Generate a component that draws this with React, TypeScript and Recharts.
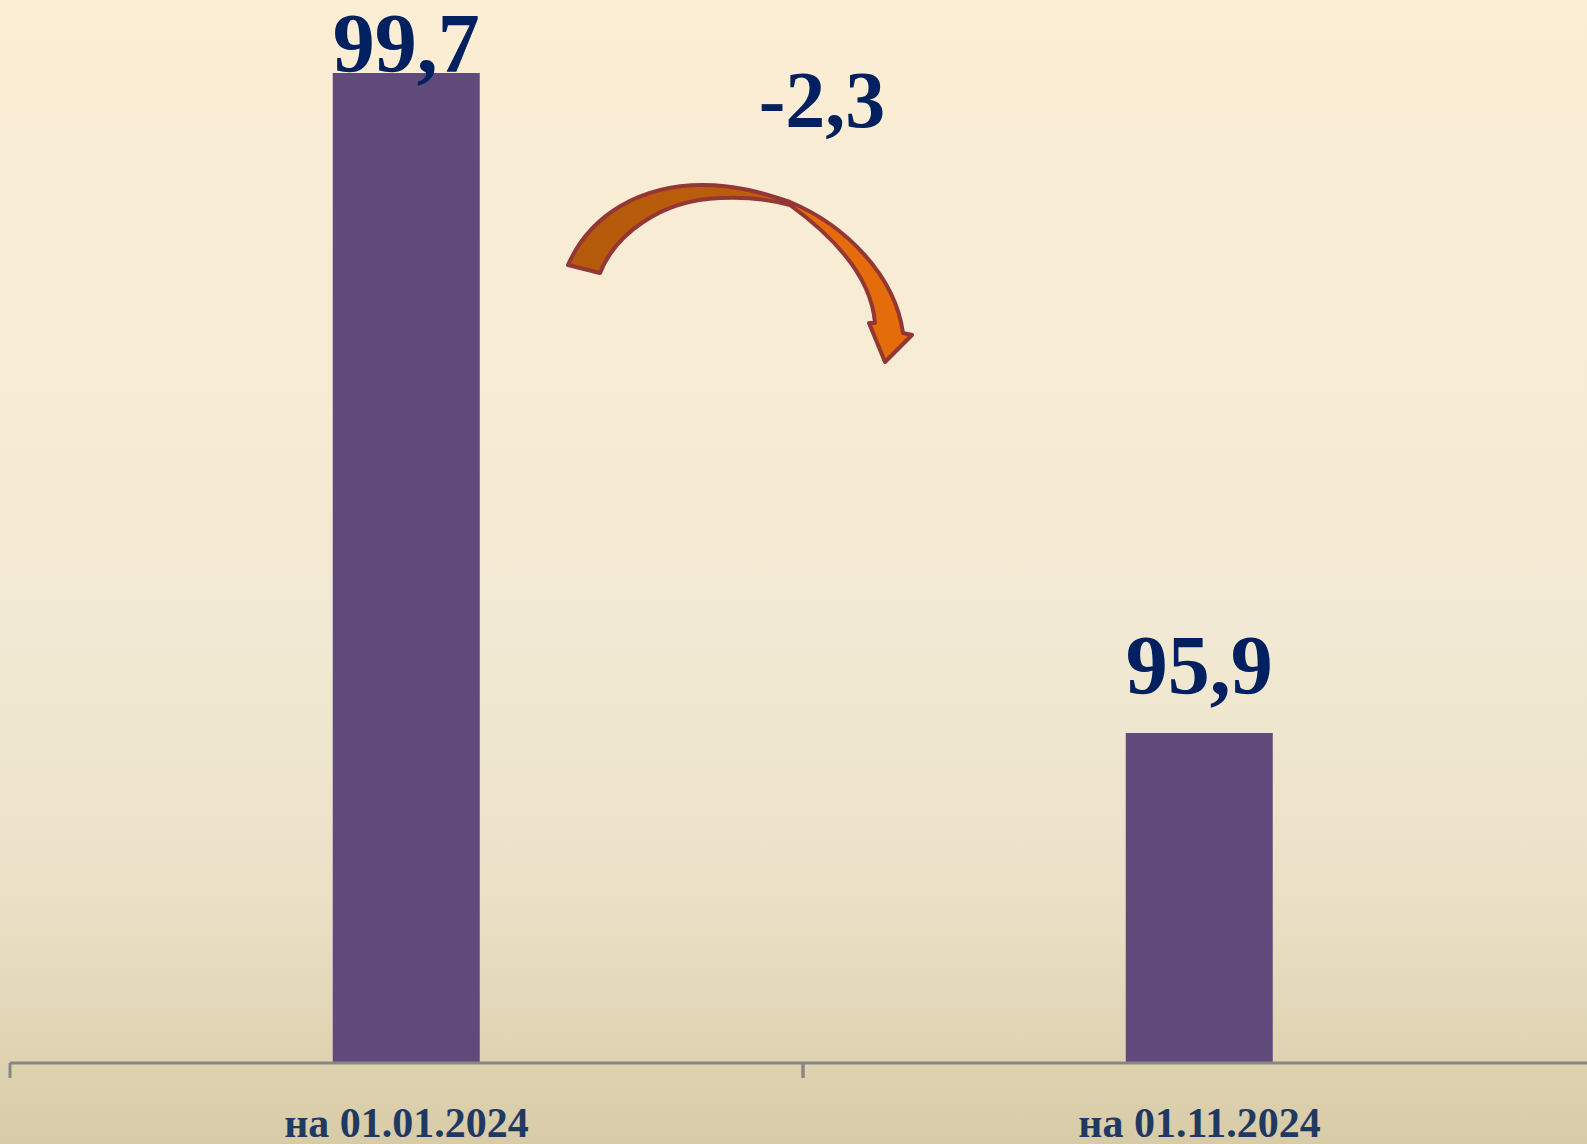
import React from "react";
import { BarChart, Bar, XAxis, YAxis, LabelList } from "recharts";

const categories = ["на 01.01.2024", "на 01.11.2024"];
const values = [99.7, 95.9];
const changeLabel = "-2,3";
const yDomain = [94, 100];

const data = categories.map((c, i) => ({ name: c, value: values[i] }));

const W = 1587;
const H = 1144;
const CHART_W = 1596;
const M = { top: 21, right: 0, left: 10, bottom: 0 };
const FONT = "Liberation Serif, 'Times New Roman', serif";
const AXIS_COLOR = "#878787";

const fmt = (v: number) => v.toFixed(1).replace(".", ",");

const ValueLabel = (props: any) => {
  const { x, y, width, value } = props;
  const baseline = Math.max(Number(y) - 39, 72);
  return (
    <text
      x={Number(x) + Number(width) / 2}
      y={baseline}
      textAnchor="middle"
      fill="#002060"
      style={{ fontFamily: FONT, fontWeight: 700, fontSize: 84 }}
    >
      {fmt(Number(value))}
    </text>
  );
};

const CatTick = (props: any) => {
  const { x, y, payload } = props;
  const half =
    payload && typeof payload.offset === "number" && payload.offset > 0
      ? payload.offset
      : (CHART_W - M.left - M.right) / categories.length / 2;
  const cx = Number(x);
  const cy = Number(y);
  return (
    <g>
      <line x1={cx - half} x2={cx - half} y1={cy} y2={cy + 15} stroke={AXIS_COLOR} strokeWidth={3} />
      <line x1={cx + half} x2={cx + half} y1={cy} y2={cy + 15} stroke={AXIS_COLOR} strokeWidth={3} />
      <text
        x={cx}
        y={cy + 74}
        textAnchor="middle"
        fill="#1F3A62"
        style={{ fontFamily: FONT, fontWeight: 700, fontSize: 42 }}
      >
        {payload.value}
      </text>
    </g>
  );
};

export default function App() {
  return (
    <div
      style={{
        position: "absolute",
        left: 0,
        top: 0,
        width: W,
        height: H,
        overflow: "hidden",
        background:
          "linear-gradient(to bottom, #FCEED5 0%, #F6EBD4 35%, #F2E9D4 55%, #EBE1C7 78%, #D8CBA7 100%)",
      }}
    >
      <BarChart
        width={CHART_W}
        height={H}
        data={data}
        margin={M}
        barCategoryGap="40.7%"
      >
        <YAxis hide domain={yDomain} allowDataOverflow type="number" />
        <XAxis
          dataKey="name"
          height={81}
          axisLine={{ stroke: AXIS_COLOR, strokeWidth: 3 }}
          tickLine={false}
          tickSize={0}
          tickMargin={0}
          tick={<CatTick />}
          interval={0}
        />
        <Bar dataKey="value" fill="#604A7B" isAnimationActive={false}>
          <LabelList dataKey="value" content={<ValueLabel />} />
        </Bar>
      </BarChart>
      <svg
        width={W}
        height={H}
        style={{ position: "absolute", left: 0, top: 0, pointerEvents: "none" }}
      >
        <defs>
          <linearGradient id="arrowFill" x1="568" y1="0" x2="912" y2="0" gradientUnits="userSpaceOnUse">
            <stop offset="0" stopColor="#B35A0B" />
            <stop offset="0.55" stopColor="#BC5E0A" />
            <stop offset="0.66" stopColor="#E46C0A" />
            <stop offset="1" stopColor="#E46C0A" />
          </linearGradient>
        </defs>
        <path
          d="M 568 265 C 590 215 640 185 703 185 C 735 185 760 192 790 202 C 845 225 895 275 903 333 L 912 335 L 885 362 L 869 323 L 875 323 C 872 285 845 245 790 205 C 765 198 740 197 720 198 C 660 200 615 235 600 273 Z"
          fill="url(#arrowFill)"
          stroke="#943634"
          strokeWidth={4}
          strokeLinejoin="round"
        />
        <text
          x={822}
          y={127}
          textAnchor="middle"
          fill="#002060"
          style={{ fontFamily: FONT, fontWeight: 700, fontSize: 80 }}
        >
          {changeLabel}
        </text>
      </svg>
    </div>
  );
}
